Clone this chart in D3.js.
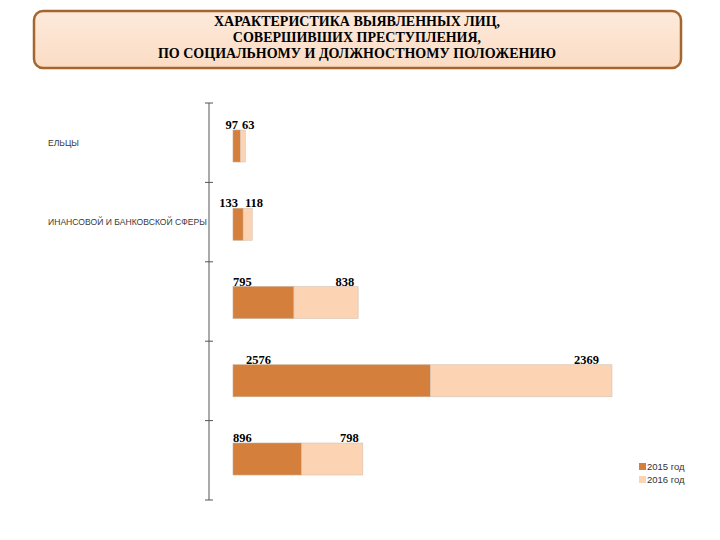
<!DOCTYPE html>
<html lang="ru">
<head>
<meta charset="utf-8">
<title>Характеристика выявленных лиц</title>
<style>
body { margin: 0; background: #fff; }
svg { display: block; }
.title text { font: bold 14px "Liberation Serif", "Times New Roman", serif; fill: #000; text-anchor: middle; }
.val { font: bold 12.5px "Liberation Serif", "Times New Roman", serif; fill: #000; }
.cat { font: 8.6px "Liberation Sans", Arial, sans-serif; fill: #3a3a3a; }
.legend text { font: 9.5px "Liberation Sans", Arial, sans-serif; fill: #333; }
</style>
</head>
<body>
<div id="chart"></div>
<script src="https://d3js.org/d3.v7.min.js"></script>
<script>
// data
const titleLines = [
  "ХАРАКТЕРИСТИКА ВЫЯВЛЕННЫХ ЛИЦ,",
  "СОВЕРШИВШИХ ПРЕСТУПЛЕНИЯ,",
  "ПО СОЦИАЛЬНОМУ И ДОЛЖНОСТНОМУ ПОЛОЖЕНИЮ"
];
// category texts as visible (left part is cut off in the original)
const categories = ["ЕЛЬЦЫ", "ИНАНСОВОЙ И БАНКОВСКОЙ СФЕРЫ", "", "", ""];
const values2015 = [97, 133, 795, 2576, 896];
const values2016 = [63, 118, 838, 2369, 798];
const seriesNames = ["2015 год", "2016 год"];
const colors = ["#d4803c", "#fcd3b3"];

const width = 720, height = 540;
const svg = d3.select("#chart").append("svg")
  .attr("width", width).attr("height", height);

// title box
const defs = svg.append("defs");
const grad = defs.append("linearGradient").attr("id", "tg")
  .attr("x1", 0).attr("y1", 0).attr("x2", 0).attr("y2", 1);
grad.append("stop").attr("offset", 0).attr("stop-color", "#fdeadb");
grad.append("stop").attr("offset", 1).attr("stop-color", "#fbdcc4");

const title = svg.append("g").attr("class", "title");
title.append("rect")
  .attr("x", 34).attr("y", 11).attr("width", 647).attr("height", 57)
  .attr("rx", 9)
  .attr("fill", "url(#tg)")
  .attr("stroke", "#a5652e").attr("stroke-width", 2.5);
title.selectAll("text").data(titleLines).join("text")
  .attr("x", 357)
  .attr("y", (d, i) => 26 + i * 16)
  .text(d => d);

// scales
const idx = d3.range(categories.length);
const axisScale = d3.scaleLinear().domain([0, categories.length]).range([103, 500]);
const yBar = d3.scalePoint().domain(idx).range([146, 459]);
const barH = 32;
const x = d3.scaleLinear()
  .domain([0, d3.max(idx, i => values2015[i] + values2016[i])])
  .range([233, 612]);

// axis with crossing ticks
const axisX = 209;
svg.append("line")
  .attr("x1", axisX).attr("x2", axisX)
  .attr("y1", axisScale(0)).attr("y2", axisScale(categories.length))
  .attr("stroke", "#555").attr("stroke-width", 1);
svg.selectAll(".tick").data(d3.range(categories.length + 1)).join("line")
  .attr("class", "tick")
  .attr("x1", axisX - 4).attr("x2", axisX + 4)
  .attr("y1", d => axisScale(d)).attr("y2", d => axisScale(d))
  .attr("stroke", "#555").attr("stroke-width", 1);

// category labels
svg.selectAll(".cat").data(idx).join("text")
  .attr("class", "cat")
  .attr("x", 48)
  .attr("y", i => (axisScale(i) + axisScale(i + 1)) / 2 + 3)
  .text(i => categories[i]);

// stacked bars
const rows = idx.map(i => ({i, a: values2015[i], b: values2016[i]}));
const g = svg.append("g");
g.selectAll(".b15").data(rows).join("rect")
  .attr("x", x(0))
  .attr("y", d => yBar(d.i) - barH / 2)
  .attr("width", d => x(d.a) - x(0))
  .attr("height", barH)
  .attr("fill", colors[0])
  .attr("stroke", "#c9a88c").attr("stroke-width", 0.6);
g.selectAll(".b16").data(rows).join("rect")
  .attr("x", d => x(d.a))
  .attr("y", d => yBar(d.i) - barH / 2)
  .attr("width", d => x(d.a + d.b) - x(d.a))
  .attr("height", barH)
  .attr("fill", colors[1])
  .attr("stroke", "#d6c2b2").attr("stroke-width", 0.6);

// value labels above bars
rows.forEach(d => {
  const top = yBar(d.i) - barH / 2 - 1;
  const small = x(d.a + d.b) - x(0) < 40;
  svg.append("text").attr("class", "val")
    .attr("x", small ? x(0) + 5 : x(0) + (d.a > 2000 ? 13 : 0))
    .attr("y", top)
    .attr("text-anchor", small ? "end" : "start")
    .text(d.a);
  svg.append("text").attr("class", "val")
    .attr("x", small ? x(0) + 9 + (d.a > 100 ? 3 : 0) : x(d.a + d.b) - (d.b > 2000 ? 13 : 4))
    .attr("y", top)
    .attr("text-anchor", small ? "start" : "end")
    .text(d.b);
});

// legend
const legend = svg.append("g").attr("class", "legend");
seriesNames.forEach((name, k) => {
  legend.append("rect")
    .attr("x", 639).attr("y", 463 + k * 13)
    .attr("width", 7).attr("height", 7)
    .attr("fill", colors[k]);
  legend.append("text")
    .attr("x", 647).attr("y", 470 + k * 13)
    .text(name);
});
</script>
</body>
</html>
